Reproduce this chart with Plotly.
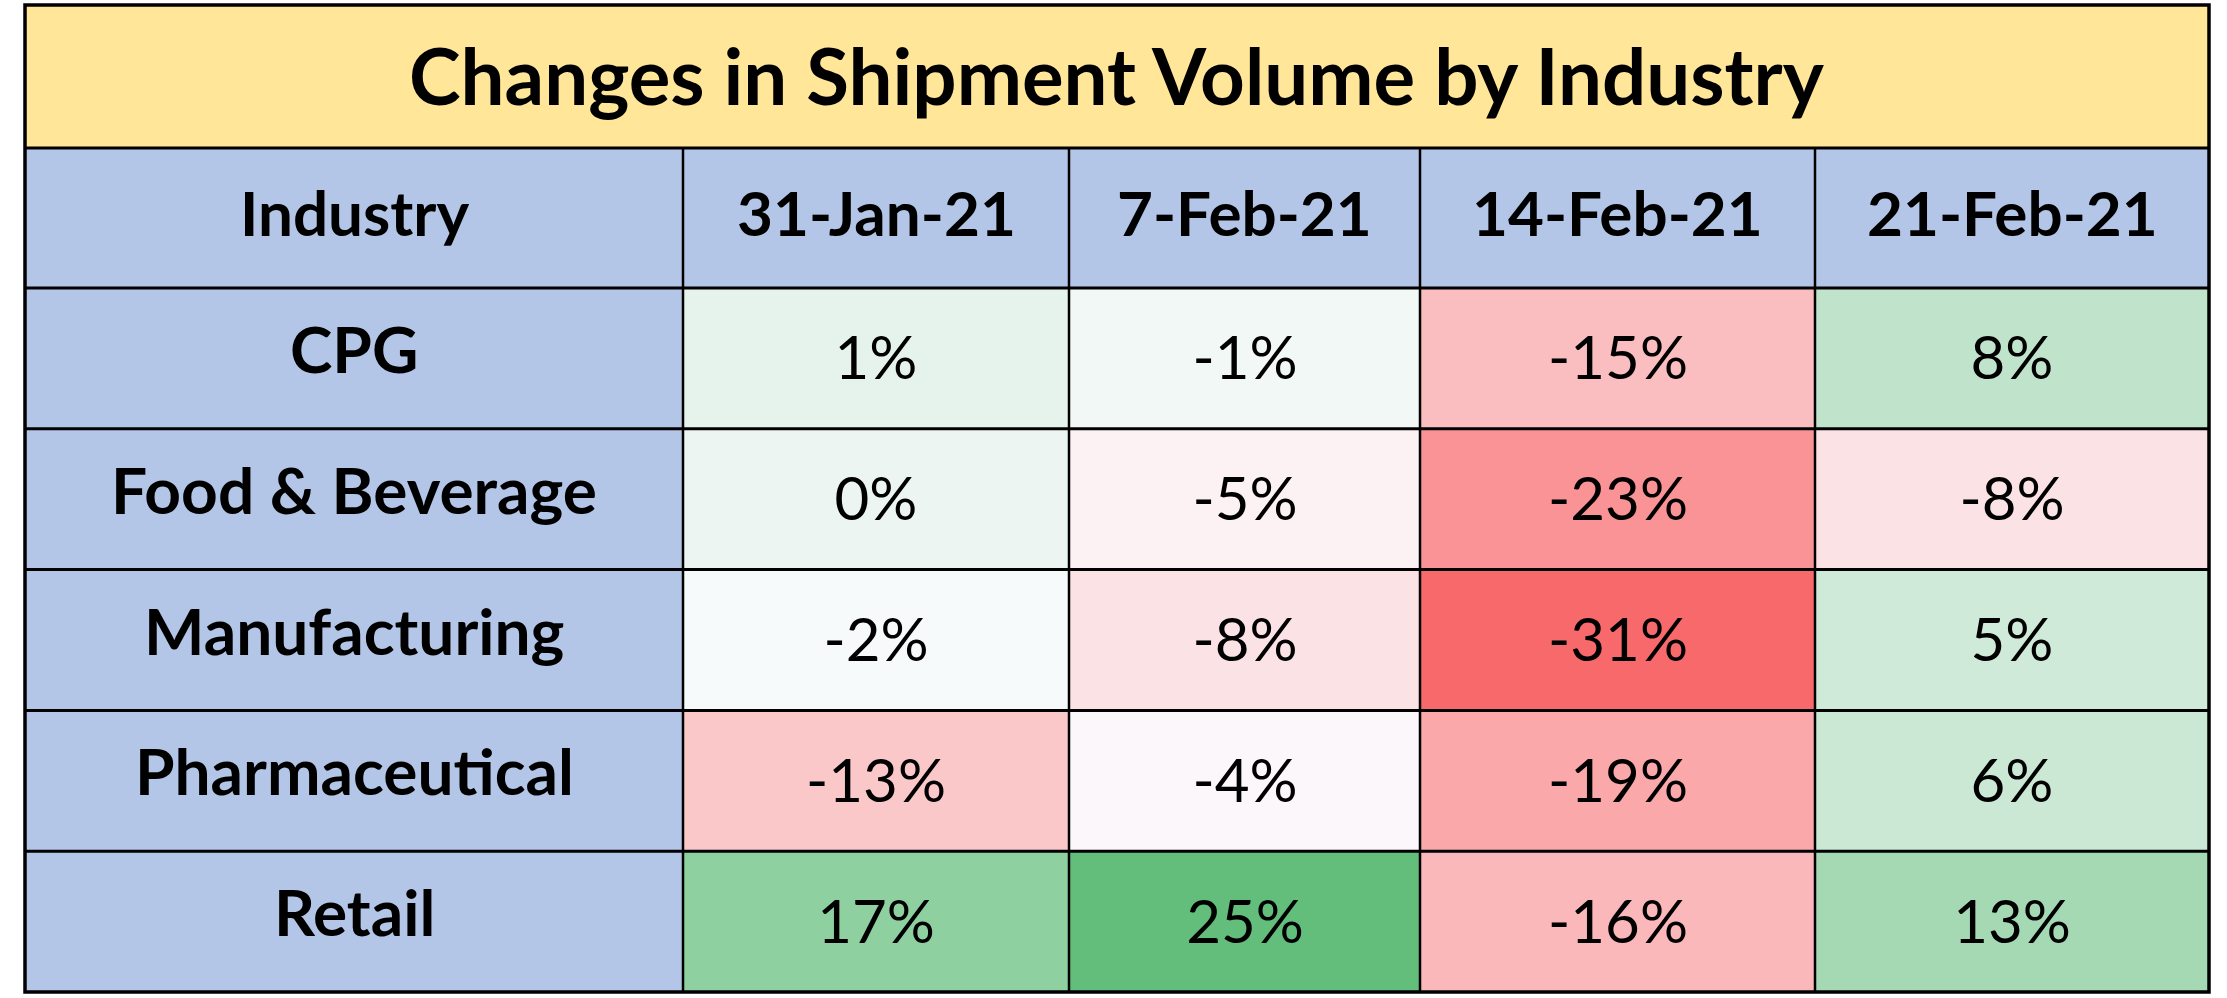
import numpy as np
import plotly.graph_objects as go

# table content
title = "Changes in Shipment Volume by Industry"
first_header = "Industry"
dates = ["31-Jan-21", "7-Feb-21", "14-Feb-21", "21-Feb-21"]
industries = ["CPG", "Food & Beverage", "Manufacturing", "Pharmaceutical", "Retail"]
jan31 = [1, 0, -2, -13, 17]
feb7 = [-1, -5, -8, -4, 25]
feb14 = [-15, -23, -31, -19, -16]
feb21 = [8, -8, 5, 6, 13]

# layout in page pixels
W, H = 2227, 998
left, right = 25, 2209
top, title_bottom, header_bottom, bottom = 5, 148, 288, 992
col_edges = [left, 683, 1069, 1420, 1815, right]
row_edges = np.linspace(header_bottom, bottom, len(industries) + 1)

z = np.array([jan31, feb7, feb14, feb21]).T
labels = [[f"{v}%" for v in row] for row in z]

# excel style 3 colour scale: min red, median white, max green
zmin, zmax = z.min(), z.max()
mid = (np.median(z) - zmin) / (zmax - zmin)
scale = [[0, "#F8696B"], [mid, "#FCFCFF"], [1, "#63BE7B"]]

fig = go.Figure(go.Heatmap(
    z=z,
    x=col_edges[1:],
    y=row_edges,
    text=labels,
    texttemplate="%{text}",
    textfont=dict(family="Lato", size=60, color="black"),
    colorscale=scale,
    zmin=zmin, zmax=zmax,
    showscale=False,
    hoverinfo="skip",
))

shapes = [
    dict(type="rect", x0=left, x1=right, y0=top, y1=title_bottom, fillcolor="#FFE699", line_width=0, layer="below"),
    dict(type="rect", x0=left, x1=right, y0=title_bottom, y1=header_bottom, fillcolor="#B4C6E7", line_width=0, layer="below"),
    dict(type="rect", x0=left, x1=col_edges[1], y0=header_bottom, y1=bottom, fillcolor="#B4C6E7", line_width=0, layer="below"),
]
for yv in [title_bottom] + list(row_edges[:-1]):
    shapes.append(dict(type="line", x0=left, x1=right, y0=yv, y1=yv, line=dict(color="black", width=3)))
for xv in col_edges[1:-1]:
    shapes.append(dict(type="line", x0=xv, x1=xv, y0=title_bottom, y1=bottom, line=dict(color="black", width=2.5)))
shapes.append(dict(type="rect", x0=left, x1=right, y0=top, y1=bottom, line=dict(color="black", width=3.5)))

annotations = [dict(x=(left + right) / 2, y=(top + title_bottom) / 2 - 2, text=title, showarrow=False,
                    font=dict(family="Lato", size=78, color="black", weight="bold"))]
header_texts = [first_header] + dates
for i, t in enumerate(header_texts):
    annotations.append(dict(x=(col_edges[i] + col_edges[i + 1]) / 2, y=(title_bottom + header_bottom) / 2 - 6,
                            text=t, showarrow=False,
                            font=dict(family="Lato", size=62, color="black", weight="bold")))
for i, name in enumerate(industries):
    annotations.append(dict(x=(col_edges[0] + col_edges[1]) / 2, y=(row_edges[i] + row_edges[i + 1]) / 2 - 10,
                            text=name, showarrow=False,
                            font=dict(family="Lato", size=64, color="black", weight="bold")))

fig.update_layout(
    width=W, height=H,
    margin=dict(l=0, r=0, t=0, b=0),
    paper_bgcolor="white", plot_bgcolor="white",
    xaxis=dict(range=[0, W], visible=False, fixedrange=True),
    yaxis=dict(range=[H, 0], visible=False, fixedrange=True),
    shapes=shapes,
    annotations=annotations,
)

fig.write_html("out.html", config={"displayModeBar": False},
               post_script="document.body.style.margin='0';document.body.style.overflow='hidden';")
